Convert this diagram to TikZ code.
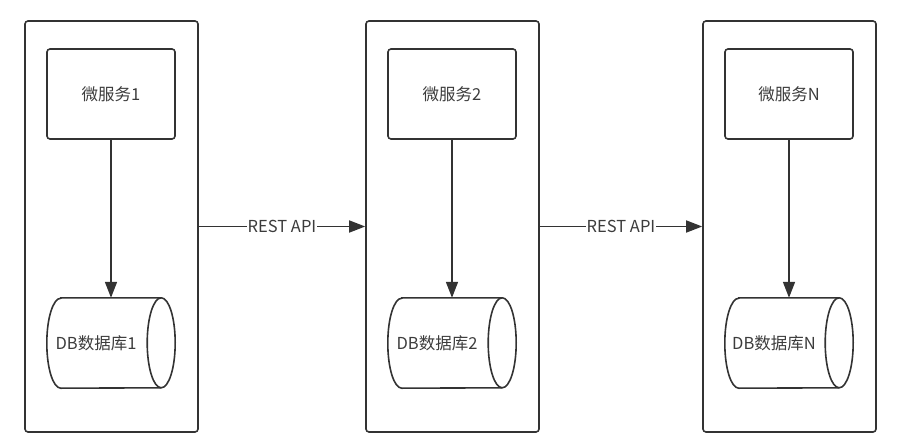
\documentclass[tikz,border=0pt]{standalone}
\usepackage{fontspec}
\newfontfamily\cjk{Noto Sans CJK SC}
\usepackage{tikz}
\usetikzlibrary{arrows.meta}
\tikzset{>=latex}
\definecolor{mygray}{RGB}{51, 51, 51}
\definecolor{mytext}{RGB}{60, 60, 60}

\begin{document}
\begin{tikzpicture}[
    x = 1pt, y = -1pt,
    every node/.style = {font = \cjk\fontsize{16.5pt}{20pt}\selectfont, text = mytext},
    cont/.style = {draw = mygray, line width = 1.6pt, rounded corners = 3pt, minimum width = 173pt, minimum height = 411pt, inner sep = 0pt},
    box/.style = {draw = mygray, line width = 1.6pt, rounded corners = 3pt, minimum width = 128pt, minimum height = 90pt, inner sep = 0pt},
    db/.style = {minimum width = 128pt, minimum height = 90pt, inner sep = 0pt},
    dbline/.style = {draw = mygray, line width = 1.6pt, x radius = 14pt, y radius = 45pt},
    d1/.style = {draw = mygray, line width = 1.6pt, -{Triangle[length = 16pt, width = 12pt]}}
]
\useasboundingbox (0, 0) rectangle (922, 447);

\node[cont] (c1) at (111.5, 226.5) {};
\node[cont] (c2) at (452.5, 226.5) {};
\node[cont] (c3) at (789.5, 226.5) {};

\node[box] (ms1) at (111, 94) {微服务1};
\node[box] (ms2) at (452, 94) {微服务2};
\node[box] (ms3) at (789, 94) {微服务N};

\node[db, label = {[xshift = -15pt]center:DB数据库1}] (db1) at (111, 343) {};
\node[db, label = {[xshift = -15pt]center:DB数据库2}] (db2) at (452, 343) {};
\node[db, label = {[xshift = -15pt]center:DB数据库N}] (db3) at (789, 343) {};

% cylinders
\draw[dbline] ([xshift = 14pt]db1.north west) -- ([xshift = -14pt]db1.north east) arc[start angle = 90, end angle = -90] -- ([xshift = 14pt]db1.south west) arc[start angle = 270, end angle = 90] -- cycle;
\draw[dbline] ([xshift = -14pt]db1.north east) arc[start angle = 90, end angle = 270];
\draw[dbline] ([xshift = 14pt]db2.north west) -- ([xshift = -14pt]db2.north east) arc[start angle = 90, end angle = -90] -- ([xshift = 14pt]db2.south west) arc[start angle = 270, end angle = 90] -- cycle;
\draw[dbline] ([xshift = -14pt]db2.north east) arc[start angle = 90, end angle = 270];
\draw[dbline] ([xshift = 14pt]db3.north west) -- ([xshift = -14pt]db3.north east) arc[start angle = 90, end angle = -90] -- ([xshift = 14pt]db3.south west) arc[start angle = 270, end angle = 90] -- cycle;
\draw[dbline] ([xshift = -14pt]db3.north east) arc[start angle = 90, end angle = 270];

\draw[d1] (ms1) -- (db1);
\draw[d1] (ms2) -- (db2);
\draw[d1] (ms3) -- (db3);

\draw[d1] (c1) -- node[fill = white, inner sep = 1pt] {REST API} (c2);
\draw[d1] (c2) -- node[fill = white, inner sep = 1pt] {REST API} (c3);

\end{tikzpicture}
\end{document}
